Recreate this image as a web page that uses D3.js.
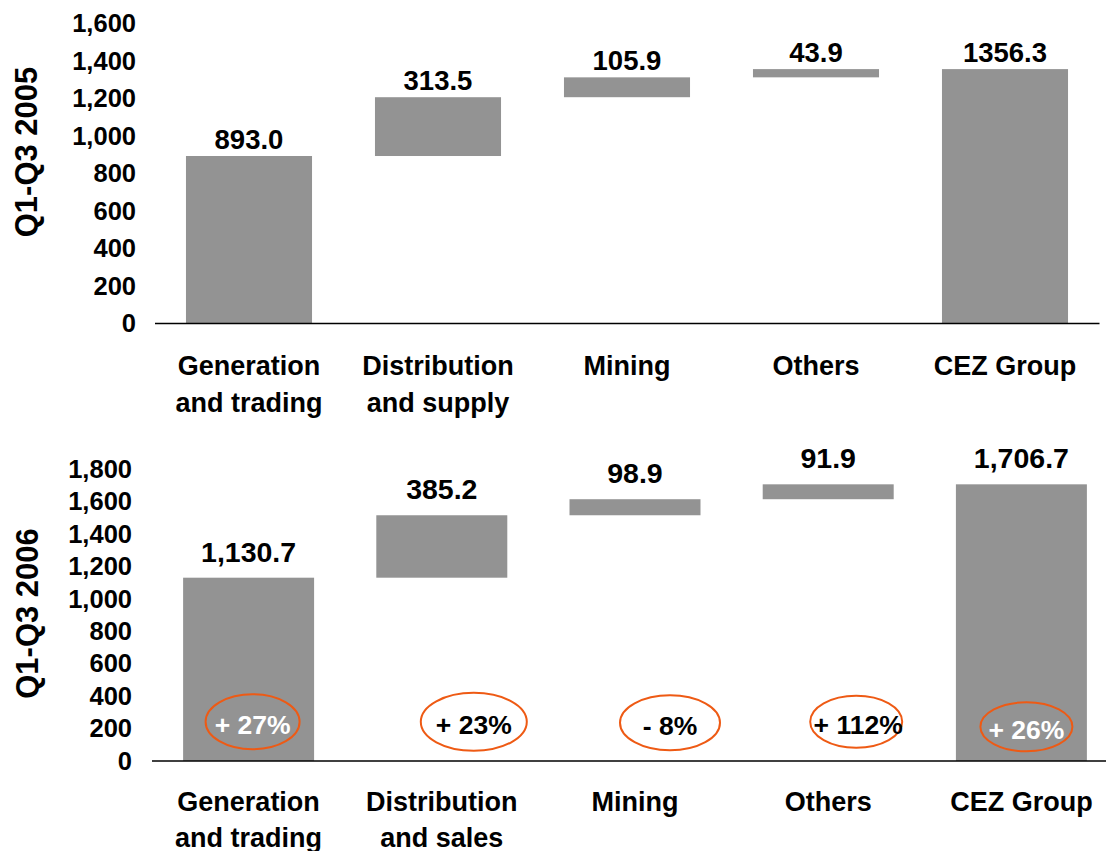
<!DOCTYPE html>
<html>
<head>
<meta charset="utf-8">
<script src="https://cdn.jsdelivr.net/npm/d3@7"></script>
<style>
    body { margin: 0; background: #fff; }
    svg text { font-family: "Liberation Sans", Arial, sans-serif; font-weight: bold; fill: #000; }
</style>
</head>
<body>
<svg id="chart" width="1106" height="851"></svg>
<script>
// Data
var categories2005 = [["Generation", "and trading"], ["Distribution", "and supply"], ["Mining"], ["Others"], ["CEZ Group"]];
var values2005 = [893.0, 313.5, 105.9, 43.9, 1356.3];
var labels2005 = ["893.0", "313.5", "105.9", "43.9", "1356.3"];
var ticks2005 = [0, 200, 400, 600, 800, 1000, 1200, 1400, 1600];

var categories2006 = [["Generation", "and trading"], ["Distribution", "and sales"], ["Mining"], ["Others"], ["CEZ Group"]];
var values2006 = [1130.7, 385.2, 98.9, 91.9, 1706.7];
var labels2006 = ["1,130.7", "385.2", "98.9", "91.9", "1,706.7"];
var ticks2006 = [0, 200, 400, 600, 800, 1000, 1200, 1400, 1600, 1800];
var changes2006 = ["+ 27%", "+ 23%", "- 8%", "+ 112%", "+ 26%"];

var BAR_COLOR = "#939393";
var RING_COLOR = "#ee5a14";

var svg = d3.select("#chart");

// waterfall: first and last bars start at 0, the rest sit on the running total
function steps(values) {
    var run = 0, out = [];
    values.forEach(function(v, i) {
        if (i === 0 || i === values.length - 1) {
            out.push({y0: 0, y1: v});
            run = v;
        } else {
            out.push({y0: run, y1: run + v});
            run += v;
        }
    });
    return out;
}

function panel(opts) {
    var g = svg.append("g");

    var x = d3.scaleBand()
        .domain(d3.range(opts.values.length))
        .range(opts.xRange)
        .paddingInner(opts.pad)
        .paddingOuter(opts.pad / 2);

    var y = d3.scaleLinear()
        .domain([0, d3.max(opts.ticks)])
        .range(opts.yRange);

    var bars = steps(opts.values);

    g.selectAll("rect.bar")
        .data(bars)
        .enter()
        .append("rect")
        .attr("class", "bar")
        .attr("x", function(d, i) { return x(i); })
        .attr("width", x.bandwidth())
        .attr("y", function(d) { return y(d.y1); })
        .attr("height", function(d) { return y(d.y0) - y(d.y1); })
        .attr("fill", BAR_COLOR);

    // x axis line only
    var xAxis = g.append("g")
        .attr("transform", "translate(0," + y(0) + ")")
        .call(d3.axisBottom(x).tickSize(0).tickSizeOuter(0).tickFormat(""));
    xAxis.select(".domain")
        .attr("stroke", "#000")
        .attr("stroke-width", 1.6)
        .attr("d", "M" + opts.axisStart + ",0H" + opts.axisEnd);

    // y tick labels, no line
    var yAxis = g.append("g")
        .attr("transform", "translate(" + opts.tickX + ",0)")
        .call(d3.axisLeft(y).tickValues(opts.ticks).tickSize(0).tickPadding(0).tickFormat(d3.format(",")));
    yAxis.select(".domain").remove();
    yAxis.selectAll("text")
        .style("font-size", "25.5px")
        .style("font-family", "'Liberation Sans', Arial, sans-serif")
        .style("font-weight", "bold")
        .attr("fill", "#000");

    g.append("text")
        .attr("transform", "translate(" + opts.titleX + "," + opts.titleY + ") rotate(-90)")
        .attr("text-anchor", "middle")
        .style("font-size", "31px")
        .text(opts.title);

    // value labels above bars
    g.selectAll("text.value")
        .data(bars)
        .enter()
        .append("text")
        .attr("class", "value")
        .attr("text-anchor", "middle")
        .attr("x", function(d, i) { return x(i) + x.bandwidth() / 2; })
        .attr("y", function(d) { return y(d.y1) - opts.labelGap; })
        .style("font-size", opts.valueSize + "px")
        .text(function(d, i) { return opts.labels[i]; });

    // category labels
    g.selectAll("text.cat")
        .data(opts.categories)
        .enter()
        .append("text")
        .attr("class", "cat")
        .attr("text-anchor", "middle")
        .style("font-size", "27px")
        .each(function(lines, i) {
            var t = d3.select(this);
            lines.forEach(function(line, j) {
                t.append("tspan")
                    .attr("x", x(i) + x.bandwidth() / 2)
                    .attr("y", y(0) + opts.catOffset + j * 36.5)
                    .text(line);
            });
        });

    return {x: x, y: y, g: g};
}

var top = panel({
    values: values2005, labels: labels2005, ticks: ticks2005, categories: categories2005,
    title: "Q1-Q3 2005",
    xRange: [154.5, 1099.5], pad: 0.333,
    yRange: [323.5, 23.4],
    axisStart: 155, axisEnd: 1099.5,
    tickX: 136, titleX: 37, titleY: 152,
    labelGap: 7, valueSize: 27.5, catOffset: 51.5
});

var bottom = panel({
    values: values2006, labels: labels2006, ticks: ticks2006, categories: categories2006,
    title: "Q1-Q3 2006",
    xRange: [152, 1118], pad: 0.322,
    yRange: [761, 469.2],
    axisStart: 152, axisEnd: 1110,
    tickX: 132, titleX: 38, titleY: 613.5,
    labelGap: 16, valueSize: 28.5, catOffset: 49.5
});

// growth rings on the 2006 panel
var ringDx = [4, 32, 35, 28, 5];
var ringRx = [47, 53, 50, 46, 46];
var ringRy = [27.5, 29, 27.5, 26, 24.5];
var ringDy = [0, 0, 1, 0, 5];
var ringAt = 242;

var rings = bottom.g.selectAll("g.ring")
    .data(changes2006)
    .enter()
    .append("g")
    .attr("class", "ring")
    .attr("transform", function(d, i) {
        var cx = bottom.x(i) + bottom.x.bandwidth() / 2 + ringDx[i];
        return "translate(" + cx + "," + (bottom.y(ringAt) + ringDy[i]) + ")";
    });

rings.append("ellipse")
    .attr("rx", function(d, i) { return ringRx[i]; })
    .attr("ry", function(d, i) { return ringRy[i]; })
    .attr("fill", "none")
    .attr("stroke", RING_COLOR)
    .attr("stroke-width", 2);

rings.append("text")
    .attr("text-anchor", "middle")
    .attr("x", function(d, i) { return i === 3 ? 2 : 0; })
    .attr("y", 12)
    .style("font-size", "26.5px")
    .style("fill", function(d, i) { return (i === 0 || i === 4) ? "#fff" : "#000"; })
    .text(function(d) { return d; });
</script>
</body>
</html>
